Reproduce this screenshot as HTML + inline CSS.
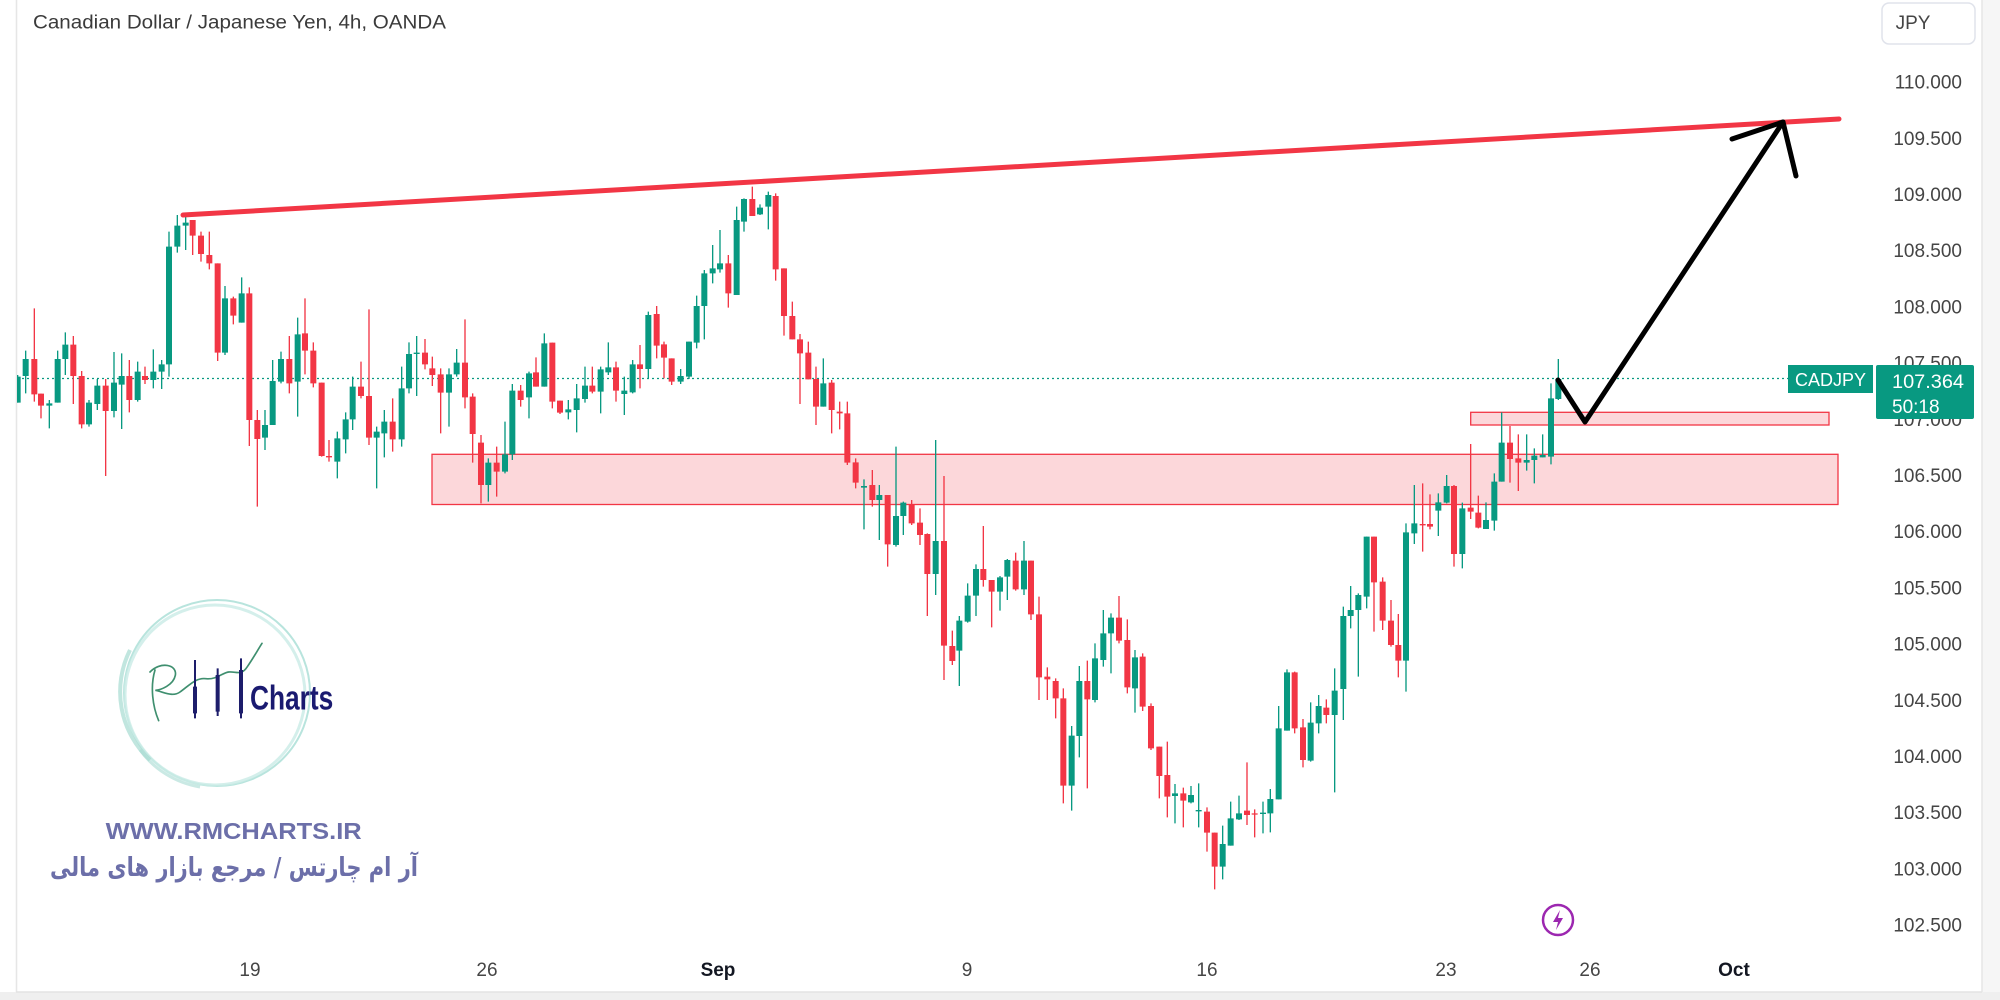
<!DOCTYPE html>
<html><head><meta charset="utf-8"><style>
html,body{margin:0;padding:0;background:#fff;}
body{width:2000px;height:1000px;overflow:hidden;}
svg{display:block;}
.gw{stroke:#089981;stroke-width:4;fill:none}
.rw{stroke:#f23645;stroke-width:4;fill:none}
.gb{fill:#089981}
.rb{fill:#f23645}
.ax{font-family:"Liberation Sans",sans-serif;font-size:19px;fill:#454545}
</style></head><body>
<svg width="2000" height="1000" viewBox="0 0 2000 1000" xmlns="http://www.w3.org/2000/svg">
<defs><clipPath id="cl"><rect x="17" y="0" width="1965" height="992"/></clipPath></defs>
<rect x="0" y="0" width="2000" height="1000" fill="#fff"/>
<rect x="1982" y="0" width="18" height="1000" fill="#f6f6f6"/>
<rect x="0" y="992" width="2000" height="8" fill="#efefef"/>
<line x1="16.5" y1="0" x2="16.5" y2="992" stroke="#e6e6e6" stroke-width="1.5"/>
<line x1="1982" y1="0" x2="1982" y2="992" stroke="#e6e6e6" stroke-width="1.5"/>
<line x1="16" y1="992" x2="1982" y2="992" stroke="#e3e3e3" stroke-width="1.5"/>

<!-- title -->
<text x="33" y="28.5" font-family="Liberation Sans, sans-serif" font-size="19" fill="#3b3b3b" textLength="413" lengthAdjust="spacingAndGlyphs">Canadian Dollar / Japanese Yen, 4h, OANDA</text>

<!-- logo watermark -->
<g>
<circle cx="217" cy="693" r="93" fill="none" stroke="#b8e4dd" stroke-width="2"/>
<circle cx="215" cy="695" r="90" fill="none" stroke="#c9ebe6" stroke-width="3" opacity="0.8"/>
<path d="M150,760 A93,93 0 0 1 130,650" fill="none" stroke="#a6dbd2" stroke-width="4" opacity="0.7"/>
<path d="M200,787 A93,93 0 0 1 140,750" fill="none" stroke="#a6dbd2" stroke-width="3" opacity="0.6"/>
<g transform="translate(40,590) scale(0.33333)">
<path d="M345,240 C330,290 338,350 356,392 M330,246 C360,214 412,222 406,256 C400,286 362,300 346,301 C372,306 398,322 420,306 C448,286 468,262 498,266 C528,270 548,248 566,246 C590,244 604,258 622,230 C640,204 652,182 666,160" fill="none" stroke="#3f8f6f" stroke-width="5" stroke-linecap="round"/>
<path d="M465,210V385M533,235V378M603,205V385" stroke="#1d1d6b" stroke-width="6"/>
<path d="M459,290h12v80h-12zM527,255h12v110h-12zM597,240h12v130h-12z" fill="#1d1d6b"/>
<text x="630" y="358" font-family="Liberation Sans Narrow, Liberation Sans, sans-serif" font-weight="bold" font-size="104" fill="#1a1a70" textLength="250" lengthAdjust="spacingAndGlyphs">Charts</text>
</g>
<text x="105.7" y="839" font-family="Liberation Sans, sans-serif" font-weight="bold" font-size="23" fill="#6c6fa9" textLength="256" lengthAdjust="spacingAndGlyphs">WWW.RMCHARTS.IR</text>
<text x="234" y="876" text-anchor="middle" direction="rtl" font-family="DejaVu Sans, sans-serif" font-weight="bold" font-size="26" fill="#6c6fa9" textLength="368" lengthAdjust="spacingAndGlyphs">آر ام چارتس / مرجع بازار های مالی</text>
</g>

<!-- zones -->
<rect x="432" y="454.3" width="1406" height="50.2" fill="#f23645" fill-opacity="0.2" stroke="#f23645" stroke-width="1.3"/>
<rect x="1470.7" y="412.3" width="358.3" height="12.7" fill="#f23645" fill-opacity="0.2" stroke="#f23645" stroke-width="1.3"/>

<!-- last price dotted line -->
<line x1="17" y1="378.5" x2="1788" y2="378.5" stroke="#089981" stroke-width="1.3" stroke-dasharray="2 3"/>

<g clip-path="url(#cl)">
<g transform="translate(15,180) scale(0.33333)">
<path class="gw" d="M8,585V668M32,512V640M103,660V745M128,512V668M151,457V585M222,660V740M247,597V690M297,516V712M320,520V747M368,545V665M415,508V625M440,540V627M462,155V590M487,105V218M512,100V210M630,318V525M680,292V428M750,690V810M773,540V735M798,515V610M848,413V710M967,755V895M992,697V820M1013,590V750M1085,740V925M1108,690V832M1160,560V800M1182,487V640"/>
<path class="gb" d="M-1,590h18v78h-18zM23,537h18v51h-18zM94,670h18v7h-18zM119,537h18v131h-18zM142,494h18v43h-18zM213,668h18v65h-18zM238,617h18v55h-18zM288,608h18v85h-18zM311,588h18v26h-18zM359,575h18v85h-18zM406,575h18v25h-18zM431,553h18v22h-18zM453,200h18v353h-18zM478,137h18v63h-18zM503,128h18v9h-18zM621,355h18v163h-18zM671,340h18v88h-18zM741,735h18v38h-18zM764,603h18v132h-18zM789,537h18v68h-18zM839,463h18v142h-18zM958,775h18v70h-18zM983,718h18v60h-18zM1004,620h18v98h-18zM1076,755h18v18h-18zM1099,725h18v35h-18zM1151,625h18v153h-18zM1173,522h18v103h-18z"/>
<path class="rw" d="M58,385V665M78,641V715M175,468V672M200,573V745M272,597V888M343,540V697M390,560V612M533,120V225M558,155V245M583,155V268M608,250V543M655,350V433M703,322V798M727,690V980M823,468V640M870,355V583M895,487V622M920,608V830M942,780V845M1038,545V655M1062,388V795M1133,655V815"/>
<path class="rb" d="M49,537h18v106h-18zM69,641h18v36h-18zM166,494h18v94h-18zM191,588h18v145h-18zM263,617h18v76h-18zM334,588h18v72h-18zM381,588h18v12h-18zM524,120h18v47h-18zM549,167h18v55h-18zM574,225h18v25h-18zM599,250h18v268h-18zM646,355h18v52h-18zM694,340h18v380h-18zM718,720h18v57h-18zM814,537h18v73h-18zM861,460h18v52h-18zM886,512h18v98h-18zM911,608h18v220h-18zM933,828h18v4h-18zM1029,620h18v28h-18zM1053,648h18v125h-18zM1124,725h18v53h-18z"/>
</g>
<g transform="translate(415,180) scale(0.33333)">
<path class="gw" d="M5,468V648M102,565V740M125,507V590M220,835V965M270,725V880M292,612V840M342,575V715M388,460V620M460,660V718M485,612V757M510,560V668M557,560V700M580,487V585M628,590V705M653,540V640M700,395V595M797,567V612M822,485V597M845,347V505M868,270V478M893,195V310M915,150V278M965,80V345M987,55V155M1035,73V105M1060,35V148M1225,535V680"/>
<path class="gb" d="M-4,518h18v4h-18zM93,583h18v55h-18zM116,548h18v35h-18zM211,848h18v67h-18zM261,823h18v52h-18zM283,632h18v191h-18zM333,580h18v72h-18zM379,490h18v130h-18zM451,688h18v9h-18zM476,655h18v35h-18zM501,617h18v40h-18zM548,568h18v67h-18zM571,562h18v15h-18zM619,632h18v10h-18zM644,553h18v84h-18zM691,405h18v162h-18zM788,588h18v17h-18zM813,485h18v105h-18zM836,378h18v110h-18zM859,280h18v98h-18zM884,265h18v15h-18zM906,250h18v18h-18zM956,120h18v225h-18zM978,57h18v68h-18zM1026,83h18v20h-18zM1051,45h18v35h-18zM1216,610h18v70h-18z"/>
<path class="rw" d="M30,477V568M52,530V618M77,565V760M150,418V685M173,640V848M198,765V970M245,800V950M317,615V680M363,532V620M412,488V685M435,662V702M532,560V640M603,545V665M675,495V625M725,378V535M747,485V595M770,535V615M940,225V383M1012,20V108M1082,40V302M1107,265V467M1132,365V478M1155,462V672M1180,485V598M1203,560V735M1250,600V760"/>
<path class="rb" d="M21,518h18v35h-18zM43,565h18v20h-18zM68,583h18v55h-18zM141,548h18v104h-18zM164,650h18v112h-18zM189,788h18v127h-18zM236,848h18v27h-18zM308,632h18v28h-18zM354,577h18v43h-18zM403,488h18v177h-18zM426,662h18v36h-18zM523,617h18v18h-18zM594,562h18v70h-18zM666,553h18v14h-18zM716,402h18v95h-18zM738,493h18v40h-18zM761,535h18v70h-18zM931,250h18v90h-18zM1003,57h18v51h-18zM1073,48h18v220h-18zM1098,265h18v143h-18zM1123,408h18v70h-18zM1146,478h18v42h-18zM1171,518h18v80h-18zM1194,597h18v83h-18zM1241,608h18v82h-18z"/>
</g>
<g transform="translate(835,400) scale(0.33333)">
<path class="gw" d="M87,238V388M133,255V420M183,140V440M205,305V405M302,120V585M373,648V858M398,550V668M423,493V648M495,528V632M517,477V600M567,423V585M710,978V1232M733,798V1072M780,730V907M805,630V800M828,640V820M900,750V938M1020,1152V1270M1068,1158V1210"/>
<path class="gb" d="M78,258h18v5h-18zM124,285h18v15h-18zM174,348h18v87h-18zM196,308h18v40h-18zM293,423h18v99h-18zM364,662h18v90h-18zM389,587h18v78h-18zM414,507h18v80h-18zM486,532h18v43h-18zM508,480h18v50h-18zM558,482h18v86h-18zM701,1007h18v150h-18zM724,843h18v165h-18zM771,775h18v125h-18zM796,700h18v80h-18zM819,653h18v47h-18zM891,772h18v93h-18zM1011,1180h18v8h-18zM1059,1185h18v22h-18z"/>
<path class="rw" d="M14,5V88M37,5V195M62,175V265M112,210V320M158,285V500M230,300V375M255,325V435M277,400V648M327,228V840M352,692V795M445,378V560M470,540V682M542,458V572M588,482V660M612,590V900M637,802V900M662,835V955M685,865V1210M757,782V1165M852,588V730M877,658V880M923,760V933M948,910V1050M973,1040V1195M997,1025V1252M1045,1163V1282"/>
<path class="rb" d="M5,35h18v5h-18zM28,40h18v148h-18zM53,187h18v61h-18zM103,255h18v45h-18zM149,285h18v148h-18zM221,315h18v55h-18zM246,368h18v37h-18zM268,402h18v120h-18zM318,423h18v314h-18zM343,738h18v45h-18zM436,507h18v33h-18zM461,540h18v35h-18zM533,482h18v86h-18zM579,482h18v161h-18zM603,643h18v189h-18zM628,830h18v8h-18zM653,843h18v52h-18zM676,895h18v262h-18zM748,843h18v55h-18zM843,653h18v69h-18zM868,720h18v142h-18zM914,770h18v150h-18zM939,918h18v127h-18zM964,1040h18v88h-18zM988,1125h18v65h-18zM1036,1180h18v22h-18z"/>
</g>
<g transform="translate(1188,640) scale(0.33333)">
<path class="gw" d="M32,430V562M104,557V718M128,485V617M153,467V540M225,485V580M247,447V577M272,198V478M297,88V272M368,187V365M392,165V280M440,85V457"/>
<path class="gb" d="M23,510h18v4h-18zM95,612h18v68h-18zM119,535h18v82h-18zM144,520h18v18h-18zM216,518h18v4h-18zM238,477h18v43h-18zM263,265h18v213h-18zM288,97h18v175h-18zM359,248h18v114h-18zM383,198h18v52h-18zM431,152h18v73h-18z"/>
<path class="rw" d="M57,502V635M80,578V748M177,367V555M200,508V592M320,95V280M345,237V382M415,178V250"/>
<path class="rb" d="M48,515h18v63h-18zM71,578h18v102h-18zM168,512h18v13h-18zM191,520h18v4h-18zM311,97h18v168h-18zM336,262h18v98h-18zM406,203h18v22h-18z"/>
</g>
<g transform="translate(1195,340) scale(0.33333)">
<path class="gw" d="M445,800V1140M467,738V865M490,760V1010M515,590V805M633,550V1055M658,435V612M730,460V588M755,405V490M802,488V685M873,487V567M898,400V572M920,217V425M995,283V392M1018,325V430M1043,283V352M1068,130V373M1090,57V180"/>
<path class="gb" d="M436,828h18v219h-18zM458,810h18v18h-18zM481,765h18v45h-18zM506,590h18v180h-18zM624,577h18v385h-18zM649,550h18v30h-18zM721,487h18v25h-18zM746,438h18v50h-18zM793,505h18v137h-18zM864,540h18v27h-18zM889,425h18v117h-18zM911,308h18v117h-18zM986,360h18v8h-18zM1009,347h18v13h-18zM1034,345h18v7h-18zM1059,175h18v175h-18zM1081,117h18v60h-18z"/>
<path class="rw" d="M537,590V875M563,712V870M588,780V920M610,822V1012M683,430V635M705,463V568M777,435V680M827,312V537M850,467V565M945,258V428M970,283V453"/>
<path class="rb" d="M528,590h18v137h-18zM554,725h18v117h-18zM579,842h18v73h-18zM601,915h18v47h-18zM674,552h18v4h-18zM696,552h18v8h-18zM768,438h18v204h-18zM818,503h18v12h-18zM841,518h18v45h-18zM936,308h18v49h-18zM961,355h18v13h-18z"/>
</g>
</g>

<!-- trend line -->
<line x1="183" y1="215" x2="1839" y2="119" stroke="#f23645" stroke-width="5" stroke-linecap="round"/>

<!-- arrow -->
<polyline points="1558,380 1585,422 1783,122" fill="none" stroke="#000" stroke-width="5" stroke-linejoin="round" stroke-linecap="round"/>
<polyline points="1732,139 1783,122 1796,176" fill="none" stroke="#000" stroke-width="5" stroke-linejoin="round" stroke-linecap="round"/>

<!-- price axis labels -->
<g class="ax" text-anchor="end">
<text x="1962" y="88.6">110.000</text>
<text x="1962" y="144.8">109.500</text>
<text x="1962" y="201">109.000</text>
<text x="1962" y="257.2">108.500</text>
<text x="1962" y="313.4">108.000</text>
<text x="1962" y="369.6">107.500</text>
<text x="1962" y="425.8">107.000</text>
<text x="1962" y="482">106.500</text>
<text x="1962" y="538.2">106.000</text>
<text x="1962" y="594.4">105.500</text>
<text x="1962" y="650.6">105.000</text>
<text x="1962" y="706.8">104.500</text>
<text x="1962" y="763">104.000</text>
<text x="1962" y="819.2">103.500</text>
<text x="1962" y="875.4">103.000</text>
<text x="1962" y="931.6">102.500</text>
</g>

<!-- JPY box -->
<rect x="1882" y="3" width="93" height="41" rx="7" fill="#fff" stroke="#e0e3eb" stroke-width="1.5"/>
<text x="1913" y="29" text-anchor="middle" class="ax" fill="#444">JPY</text>

<!-- price tags -->
<rect x="1788" y="365" width="85" height="28" fill="#089981"/>
<text x="1795" y="386" font-family="Liberation Sans, sans-serif" font-size="18" fill="#fff" textLength="71" lengthAdjust="spacingAndGlyphs">CADJPY</text>
<rect x="1876" y="365" width="98" height="54" rx="2" fill="#089981"/>
<text x="1892" y="388" font-family="Liberation Sans, sans-serif" font-size="19" fill="#fff" textLength="72" lengthAdjust="spacingAndGlyphs">107.364</text>
<text x="1892" y="413" font-family="Liberation Sans, sans-serif" font-size="19" fill="#fff">50:18</text>

<!-- lightning icon -->
<circle cx="1558" cy="920" r="15" fill="#fff" stroke="#9c27b0" stroke-width="2.5"/>
<path d="M1560,910 L1553,922 L1558,922 L1556,930 L1563,918 L1558,918 Z" fill="#9c27b0"/>

<!-- time axis -->
<g class="ax" text-anchor="middle">
<text x="250" y="976">19</text>
<text x="487" y="976">26</text>
<text x="718" y="976" font-weight="bold" fill="#131722">Sep</text>
<text x="967" y="976">9</text>
<text x="1207" y="976">16</text>
<text x="1446" y="976">23</text>
<text x="1590" y="976">26</text>
<text x="1734" y="976" font-weight="bold" fill="#131722">Oct</text>
</g>
</svg>
</body></html>
